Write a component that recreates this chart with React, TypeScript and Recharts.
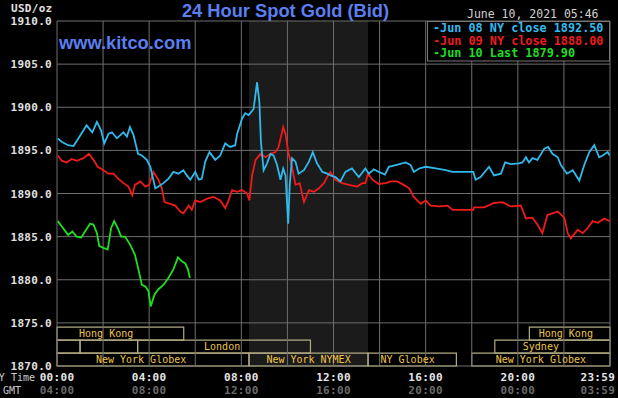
import React from 'react';
import {
  LineChart,
  Line,
  XAxis,
  YAxis,
  CartesianGrid,
  ReferenceArea,
  ReferenceLine,
  ReferenceDot,
} from 'recharts';

// minutes after NY midnight, bid price
const jun08: [number, number][] = [
  [2, 1896.4], [12, 1896.0], [29, 1895.6], [43, 1895.5], [56, 1896.4], [77, 1897.9],
  [92, 1897.1], [104, 1898.3], [115, 1897.3], [123, 1895.8], [134, 1896.9], [143, 1897.1],
  [156, 1896.4], [173, 1897.1], [182, 1896.6], [190, 1897.7], [199, 1896.8], [211, 1894.6],
  [221, 1894.4], [234, 1893.9], [243, 1893.1], [256, 1890.6], [264, 1890.8], [277, 1891.2],
  [290, 1891.7], [303, 1892.5], [316, 1892.3], [329, 1892.7], [338, 1892.1], [347, 1891.6],
  [360, 1892.5], [369, 1891.6], [377, 1891.7], [386, 1893.7], [397, 1894.8], [412, 1893.9],
  [425, 1894.4], [438, 1895.8], [451, 1895.4], [464, 1895.6], [469, 1896.9], [482, 1898.7],
  [490, 1899.3], [499, 1899.1], [512, 1899.8], [521, 1902.9], [527, 1900.6], [531, 1896.0],
  [538, 1892.7], [547, 1893.5], [556, 1894.6], [564, 1894.4], [573, 1893.3], [582, 1891.6],
  [589, 1892.9], [595, 1892.1], [602, 1886.5], [606, 1891.0], [612, 1894.1], [621, 1893.7],
  [629, 1892.3], [643, 1892.7], [656, 1893.7], [666, 1894.8], [677, 1893.5], [691, 1892.5],
  [704, 1892.3], [712, 1892.1], [725, 1891.9], [738, 1891.4], [751, 1892.5], [768, 1892.9],
  [786, 1891.9], [803, 1892.9], [812, 1892.3], [825, 1892.8], [838, 1892.5], [854, 1892.2],
  [864, 1893.1], [882, 1893.3], [908, 1893.6], [921, 1893.3], [929, 1892.5], [943, 1892.9],
  [960, 1893.1], [986, 1892.9], [1012, 1892.7], [1030, 1892.5], [1084, 1892.5], [1090, 1891.6],
  [1103, 1891.9], [1125, 1893.1], [1138, 1892.1], [1156, 1892.3], [1167, 1893.6], [1182, 1893.4],
  [1203, 1893.5], [1212, 1893.6], [1221, 1894.2], [1229, 1893.6], [1238, 1894.1], [1251, 1893.9],
  [1269, 1895.2], [1279, 1895.4], [1290, 1894.6], [1304, 1894.2], [1312, 1893.3], [1328, 1892.3],
  [1343, 1892.7], [1360, 1891.5], [1373, 1893.3], [1386, 1894.8], [1399, 1895.6], [1412, 1894.2],
  [1421, 1894.4], [1434, 1894.8], [1439, 1894.4],
];

const jun09: [number, number][] = [
  [2, 1894.4], [12, 1893.8], [25, 1893.6], [38, 1894.0], [51, 1893.8], [69, 1894.1],
  [83, 1894.6], [95, 1893.9], [106, 1893.1], [121, 1892.7], [134, 1892.3], [147, 1892.3],
  [160, 1891.7], [173, 1891.2], [186, 1890.8], [196, 1889.8], [203, 1891.0], [217, 1891.4],
  [230, 1890.8], [240, 1891.0], [251, 1892.5], [264, 1891.6], [273, 1890.6], [280, 1889.0],
  [295, 1888.8], [308, 1888.6], [321, 1887.9], [329, 1887.7], [343, 1888.6], [351, 1888.1],
  [360, 1889.2], [373, 1889.0], [391, 1889.4], [408, 1889.6], [425, 1889.2], [438, 1888.3],
  [447, 1889.2], [456, 1890.4], [469, 1890.2], [482, 1890.4], [495, 1890.0], [501, 1889.2],
  [508, 1892.1], [517, 1893.9], [530, 1894.6], [543, 1894.2], [556, 1894.6], [569, 1894.8],
  [577, 1895.4], [589, 1897.7], [595, 1896.9], [603, 1894.6], [612, 1893.1], [621, 1891.0],
  [632, 1891.2], [643, 1889.0], [656, 1890.4], [669, 1890.2], [682, 1890.6], [695, 1891.2],
  [708, 1892.3], [712, 1892.5], [725, 1891.6], [743, 1891.2], [760, 1891.0], [782, 1890.8],
  [795, 1891.2], [803, 1891.2], [810, 1892.3], [821, 1891.6], [838, 1891.1], [856, 1891.2],
  [869, 1891.4], [886, 1891.4], [903, 1891.0], [917, 1890.6], [929, 1889.6], [947, 1888.8],
  [960, 1889.2], [973, 1888.6], [995, 1888.5], [1017, 1888.6], [1030, 1888.1], [1084, 1888.1],
  [1086, 1888.4], [1112, 1888.4], [1138, 1888.9], [1160, 1889.0], [1182, 1888.5], [1208, 1888.6],
  [1221, 1887.1], [1238, 1887.2], [1251, 1886.4], [1264, 1885.4], [1277, 1887.5], [1290, 1887.7],
  [1304, 1887.9], [1321, 1887.2], [1330, 1885.4], [1338, 1884.8], [1356, 1885.8], [1369, 1885.4],
  [1382, 1886.0], [1395, 1886.8], [1408, 1886.6], [1425, 1887.1], [1439, 1886.8],
];

const jun10: [number, number][] = [
  [2, 1886.8], [12, 1886.2], [29, 1885.2], [40, 1885.6], [51, 1885.0], [63, 1884.9],
  [73, 1885.6], [86, 1886.5], [95, 1886.4], [104, 1885.4], [110, 1883.9], [121, 1883.7],
  [132, 1883.5], [141, 1886.0], [149, 1886.8], [158, 1886.0], [167, 1885.0], [177, 1885.0],
  [190, 1884.1], [203, 1882.9], [212, 1881.2], [221, 1879.4], [231, 1879.2], [238, 1878.7],
  [244, 1876.9], [254, 1878.3], [264, 1878.9], [277, 1879.4], [290, 1880.2], [303, 1881.2],
  [315, 1882.6], [326, 1882.1], [334, 1881.9], [341, 1881.2], [346, 1880.2],
];

const yTicks = [1870, 1875, 1880, 1885, 1890, 1895, 1900, 1905, 1910];
const xTicks = [0, 240, 480, 720, 960, 1200, 1439];
const nyLabels = ['00:00', '04:00', '08:00', '12:00', '16:00', '20:00', '23:59'];
const gmtLabels = ['04:00', '08:00', '12:00', '16:00', '20:00', '00:00', '03:59'];
const gridMinutes = [0, 120, 240, 360, 480, 600, 720, 840, 960, 1080, 1200, 1320, 1440];

const legendItems = [
  { text: 'Jun 08 NY close 1892.50', color: '#33bbee' },
  { text: 'Jun 09 NY close 1888.00', color: '#ee1c1c' },
  { text: 'Jun 10 Last 1879.90', color: '#22dd22' },
];

// NYMEX pit session (shaded)
const pitSession = [500, 810];

const sessions = [
  { name: 'Hong Kong', row: 0, start: 0, end: 330, labelAt: 128 },
  { name: 'Hong Kong', row: 0, start: 1230, end: 1440, labelAt: 1325 },
  { name: '', row: 1, start: 0, end: 60, labelAt: 30 },
  { name: '', row: 1, start: 60, end: 210, labelAt: 135 },
  { name: 'London', row: 1, start: 210, end: 660, labelAt: 430 },
  { name: 'Sydney', row: 1, start: 1140, end: 1440, labelAt: 1260 },
  { name: 'New York Globex', row: 2, start: 0, end: 500, labelAt: 219 },
  { name: 'New York NYMEX', row: 2, start: 500, end: 810, labelAt: 655 },
  { name: 'NY Globex', row: 2, start: 810, end: 1040, labelAt: 913 },
  { name: 'New York Globex', row: 2, start: 1080, end: 1440, labelAt: 1260 },
];

const MONO = '"DejaVu Sans Mono", "Liberation Mono", monospace';
const SANS = '"Liberation Sans", Arial, sans-serif';

const toPoints = (s: [number, number][]) => s.map(([t, price]) => ({ t, price }));

const rowTop = (row: number) => 1874.5 - row * 1.5;

const XTick = (props: any) => {
  const { x, payload } = props;
  const i = xTicks.indexOf(payload.value);
  const last = i === xTicks.length - 1;
  const tx = last ? x + 5.5 : x;
  const anchor = last ? 'end' : 'middle';
  return (
    <g>
      <text x={tx} y={381} textAnchor={anchor} fill="#e6e6e6" fontFamily={MONO} fontWeight="bold" fontSize={11} letterSpacing={0.3}>
        {nyLabels[i]}
      </text>
      <text x={tx} y={394} textAnchor={anchor} fill="#6a6a6a" fontFamily={MONO} fontWeight="bold" fontSize={11} letterSpacing={0.3}>
        {gmtLabels[i]}
      </text>
    </g>
  );
};

const YTick = (props: any) => {
  const { y, payload } = props;
  return (
    <text x={52} y={y + 4} textAnchor="end" fill="#e0e0e0" fontFamily={MONO} fontWeight="bold" fontSize={11} letterSpacing={0.3}>
      {Number(payload.value).toFixed(1)}
    </text>
  );
};

export default function App() {
  return (
    <div style={{ position: 'absolute', left: 0, top: 0, width: 618, height: 398, background: '#000', overflow: 'hidden' }}>
      <LineChart width={618} height={398} margin={{ top: 21, right: 8, left: 0, bottom: 0 }}>
        <ReferenceArea x1={pitSession[0]} x2={pitSession[1]} y1={1870} y2={1910} fill="#1b1b1b" fillOpacity={1} stroke="none" zIndex={-200} />
        <CartesianGrid vertical={false} stroke="#6e6e6e" horizontalValues={yTicks} />
        {gridMinutes.map((m) => (
          <ReferenceLine key={m} x={m} stroke="#6e6e6e" strokeWidth={1} />
        ))}
        <XAxis
          dataKey="t"
          type="number"
          domain={[0, 1440]}
          ticks={xTicks}
          height={32}
          axisLine={false}
          tickLine={false}
          tick={<XTick />}
          interval={0}
          allowDataOverflow
        />
        <YAxis
          type="number"
          domain={[1870, 1910]}
          ticks={yTicks}
          width={57}
          axisLine={false}
          tickLine={false}
          tick={<YTick />}
          interval={0}
          allowDataOverflow
        />
        {sessions.map((s, i) => (
          <ReferenceArea
            key={'box' + i}
            x1={s.start}
            x2={s.end}
            y1={rowTop(s.row) - 1.5}
            y2={rowTop(s.row)}
            fill="none"
            fillOpacity={0}
            stroke="#b2ab82"
            strokeWidth={1.2}
          />
        ))}
        {sessions
          .filter((s) => s.name)
          .map((s, i) => (
            <ReferenceDot
              key={'lbl' + i}
              x={s.labelAt}
              y={rowTop(s.row) - 0.75}
              r={0}
              fill="none"
              stroke="none"
              label={{ value: s.name, position: 'center', fill: '#ecc44a', fontSize: 10, fontFamily: MONO }}
            />
          ))}
        <Line data={toPoints(jun09)} dataKey="price" type="linear" stroke="#f01a1a" strokeWidth={1.8} dot={false} isAnimationActive={false} />
        <Line data={toPoints(jun08)} dataKey="price" type="linear" stroke="#2fb9ec" strokeWidth={1.8} dot={false} isAnimationActive={false} />
        <Line data={toPoints(jun10)} dataKey="price" type="linear" stroke="#1fe01f" strokeWidth={1.8} dot={false} isAnimationActive={false} />
      </LineChart>

      <svg width={618} height={398} style={{ position: 'absolute', left: 0, top: 0, pointerEvents: 'none' }}>
        <text x={11} y={12} fill="#e0e0e0" fontFamily={MONO} fontWeight="bold" fontSize={11} letterSpacing={0.3}>USD/oz</text>
        <text x={285.5} y={16.5} textAnchor="middle" fill="#5b7ff0" fontFamily={SANS} fontWeight="bold" fontSize={18.3}>
          24 Hour Spot Gold (Bid)
        </text>
        <text x={59} y={49} fill="#5b7ff0" fontFamily={SANS} fontWeight="bold" fontSize={18.3}>www.kitco.com</text>
        <text x={467} y={18} fill="#d0d0d0" fontFamily={MONO} fontSize={11.5}>June 10, 2021 05:46</text>
        <rect x={427.5} y={21.5} width={182} height={39.5} fill="#000" stroke="#777" strokeWidth={1} />
        {legendItems.map((it, i) => (
          <text key={it.text} x={433} y={32 + i * 12.5} fill={it.color} fontFamily={MONO} fontWeight="bold" fontSize={11.8}>
            {'-' + it.text}
          </text>
        ))}
        <text x={35} y={381} textAnchor="end" fill="#cccccc" fontFamily={MONO} fontSize={10}>NY Time</text>
        <text x={3} y={394} fill="#cccccc" fontFamily={MONO} fontSize={10}>GMT</text>
      </svg>
    </div>
  );
}
